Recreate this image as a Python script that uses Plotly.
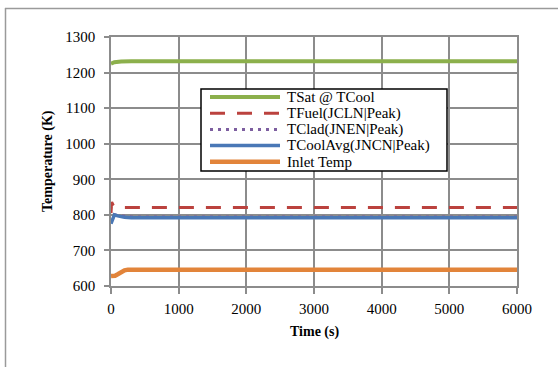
import plotly.graph_objects as go

# Data
t_sat = [0, 50, 150, 300, 1000, 2000, 3000, 4000, 5000, 6000]
v_sat = [1225, 1229, 1231, 1232, 1232, 1232, 1232, 1232, 1232, 1232]

t_fuel = [0, 10, 30, 60, 150, 300, 1000, 2000, 3000, 4000, 5000, 6000]
v_fuel = [805, 836, 828, 822, 821, 821, 821, 821, 821, 821, 821, 821]

t_clad = [0, 20, 50, 100, 200, 300, 1000, 2000, 3000, 4000, 5000, 6000]
v_clad = [780, 790, 801, 798, 795, 794, 794, 794, 794, 794, 794, 794]

t_cool = [0, 20, 50, 100, 200, 300, 1000, 2000, 3000, 4000, 5000, 6000]
v_cool = [775, 788, 800, 797, 793, 792, 792, 792, 792, 792, 792, 792]

t_inlet = [0, 60, 100, 150, 200, 250, 300, 1000, 2000, 3000, 4000, 5000, 6000]
v_inlet = [628, 629, 633, 640, 644, 646, 646, 646, 646, 646, 646, 646, 646]

names = ["TSat @ TCool", "TFuel(JCLN|Peak)", "TClad(JNEN|Peak)",
         "TCoolAvg(JNCN|Peak)", "Inlet Temp"]

x_ticks = [0, 1000, 2000, 3000, 4000, 5000, 6000]
y_ticks = [600, 700, 800, 900, 1000, 1100, 1200, 1300]

font = "Liberation Serif"
W, H = 558, 367
L, R, T, B = 111, 41, 37, 81
PW, PH = W - L - R, H - T - B

def px(x):
    return (x - L) / PW

def py(y):
    return (H - B - y) / PH

styles = [
    dict(color="#8cb04c", width=4),
    dict(color="#bb423e", width=3, dash="15px,12px"),
    dict(color="#7d5fa0", width=3, dash="3px,5px"),
    dict(color="#4a78b6", width=3.5),
    dict(color="#e2843a", width=4.5),
]
series = [(t_sat, v_sat), (t_fuel, v_fuel), (t_clad, v_clad),
          (t_cool, v_cool), (t_inlet, v_inlet)]

fig = go.Figure()
for (tx, vy), nm, st in zip(series, names, styles):
    fig.add_trace(go.Scatter(x=tx, y=vy, name=nm, mode="lines", line=st))

grid = "#8c8c8c"
border = dict(color="#9a9a9a", width=1.5)
shapes = [
    dict(type="line", xref="paper", yref="paper",
         x0=px(5), x1=px(W + 5), y0=py(8.5), y1=py(8.5), line=border, layer="below"),
    dict(type="line", xref="paper", yref="paper",
         x0=px(5.5), x1=px(5.5), y0=py(8), y1=py(H + 5), line=border, layer="below"),
]
annotations = []

# legend box (drawn manually to match the compact spreadsheet legend)
shapes.append(dict(type="rect", xref="paper", yref="paper",
                   x0=px(201), x1=px(447), y0=py(171), y1=py(89),
                   line=dict(color="black", width=1.5), fillcolor="white",
                   layer="above"))
for i, (nm, st) in enumerate(zip(names, styles)):
    yc = 97 + 16.2 * i
    shapes.append(dict(type="line", xref="paper", yref="paper",
                       x0=px(210), x1=px(280), y0=py(yc), y1=py(yc),
                       line=st, layer="above"))
    annotations.append(dict(text=nm, xref="paper", yref="paper",
                            x=px(285), y=py(yc), xanchor="left", yanchor="middle",
                            showarrow=False,
                            font=dict(family=font, size=15, color="black")))

annotations.append(dict(text="<b>Time (s)</b>", xref="paper", yref="paper",
                        x=px(314), y=py(332), xanchor="center", yanchor="middle",
                        showarrow=False, font=dict(family=font, size=14)))
annotations.append(dict(text="<b>Temperature (K)</b>", xref="paper", yref="paper",
                        x=px(48), y=py(161), xanchor="center", yanchor="middle",
                        textangle=-90, showarrow=False,
                        font=dict(family=font, size=14)))

fig.update_layout(
    width=W, height=H,
    margin=dict(l=L, r=R, t=T, b=B),
    paper_bgcolor="white", plot_bgcolor="white",
    font=dict(family=font, size=15, color="black"),
    showlegend=False,
    xaxis=dict(range=[0, 6000], tickvals=x_ticks, showgrid=True,
               gridcolor=grid, gridwidth=1.5, zeroline=False,
               showline=True, linecolor=grid, linewidth=1.5, mirror=True,
               ticks="outside", ticklen=6, tickcolor=grid, tickwidth=1.5,
               ticklabelstandoff=2,
               tickfont=dict(size=15, family=font)),
    yaxis=dict(range=[600, 1300], tickvals=y_ticks, showgrid=True,
               gridcolor=grid, gridwidth=1.5, zeroline=False,
               showline=True, linecolor=grid, linewidth=1.5, mirror=True,
               ticks="outside", ticklen=5, tickcolor=grid, tickwidth=1.5,
               ticklabelstandoff=6,
               tickfont=dict(size=15, family=font)),
    shapes=shapes,
    annotations=annotations,
)

fig.write_html("out.html", config={"displayModeBar": False},
               post_script="document.body.style.margin='0';document.body.style.overflow='hidden';")
